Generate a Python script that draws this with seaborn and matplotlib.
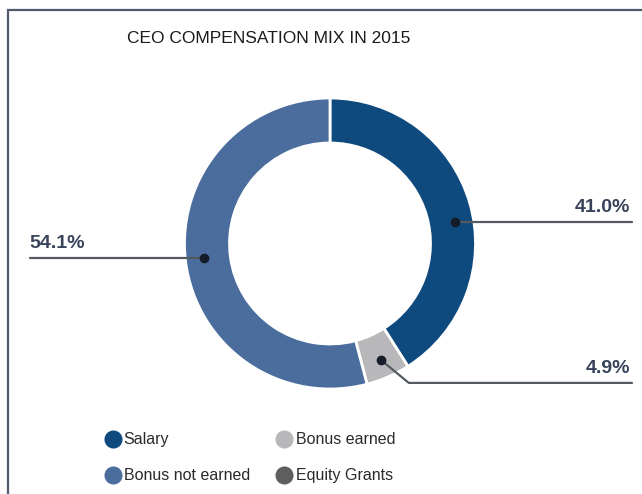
import matplotlib.pyplot as plt
import numpy as np
import seaborn as sns
from matplotlib.lines import Line2D
from matplotlib.patches import Rectangle

# Dados do gráfico (percentuais)
categorias = ["Salary", "Bonus earned", "Bonus not earned", "Equity Grants"]
valores = [41.0, 4.9, 54.1, 0.0]
rotulos = ["41.0%", "4.9%", "54.1%", ""]
cores = ["#0f4a7e", "#b8b8ba", "#4a6d9d", "#5e5e5e"]
titulo = "CEO COMPENSATION MIX IN 2015"

sns.set_theme(style="white")
plt.rcParams["font.family"] = ["Liberation Sans", "DejaVu Sans"]

W, H = 642, 494
fig = plt.figure(figsize=(W / 100, H / 100), dpi=100)
fig.patch.set_facecolor("white")
ax = fig.add_axes([0, 0, 1, 1])

# moldura (só aparecem as bordas de cima e da esquerda)
ax.add_patch(Rectangle((8, -20), W + 30, H - 10 + 20, fill=False,
                       edgecolor="#4f5a6e", linewidth=1.6, zorder=0))

cx, cy = 330, 250.5
raio = 145.5
largura = 45

# só fatias com valor > 0 entram na rosca
idx = [i for i, v in enumerate(valores) if v > 0]
fatias, _ = ax.pie(
    [valores[i] for i in idx],
    colors=[cores[i] for i in idx],
    startangle=90,
    counterclock=False,
    center=(cx, cy),
    radius=raio,
    wedgeprops=dict(width=largura, edgecolor="white", linewidth=2),
    frame=True,
)
ax.set_xlim(0, W)
ax.set_ylim(0, H)
ax.axis("off")

# rótulos com linhas de chamada
r_meio = raio - largura / 2 + 4
ajuste_angulo = {0: -6.6, 1: 0.0, 2: -0.9}
cor_linha = "#555a60"
cor_texto = "#38435a"
for k, i in enumerate(idx):
    w = fatias[k]
    ang = (w.theta1 + w.theta2) / 2 + ajuste_angulo.get(i, 0)
    px = cx + r_meio * np.cos(np.radians(ang))
    py = cy + r_meio * np.sin(np.radians(ang))
    if i == 0:
        xs, ys = [px, 632], [py, py]
        ax.text(630, py + 6, rotulos[i], ha="right", va="bottom",
                fontsize=14, color=cor_texto, fontweight="bold")
    elif i == 1:
        xs, ys = [px, px + 28, 632], [py, py - 23, py - 23]
        ax.text(630, py - 23 + 6, rotulos[i], ha="right", va="bottom",
                fontsize=14, color=cor_texto, fontweight="bold")
    else:
        xs, ys = [px, 30], [py, py]
        ax.text(29, py + 6, rotulos[i], ha="left", va="bottom",
                fontsize=14, color=cor_texto, fontweight="bold")
    ax.plot(xs, ys, color=cor_linha, linewidth=1.6, zorder=5)
    ax.plot([px], [py], marker="o", markersize=6, color="#151d2b", zorder=6)

ax.text(269, H - 39, titulo, ha="center", va="center", fontsize=12.5,
        color="#1a1a1a", fontweight="medium")

# legenda com marcadores circulares
ordem = [0, 2, 1, 3]
handles = [
    Line2D([0], [0], marker="o", linestyle="", markersize=12,
           markerfacecolor=cores[i], markeredgecolor=cores[i])
    for i in ordem
]
ax.legend(
    handles,
    [categorias[i] for i in ordem],
    ncol=2,
    loc="upper left",
    bbox_to_anchor=(91 / W, 1 - 418 / H),
    frameon=False,
    fontsize=11.5,
    handlelength=0.9,
    handletextpad=0.25,
    columnspacing=1.7,
    labelspacing=1.3,
    labelcolor="#2a2a2a",
)

fig.savefig("out.png", dpi=100, facecolor=fig.get_facecolor())
